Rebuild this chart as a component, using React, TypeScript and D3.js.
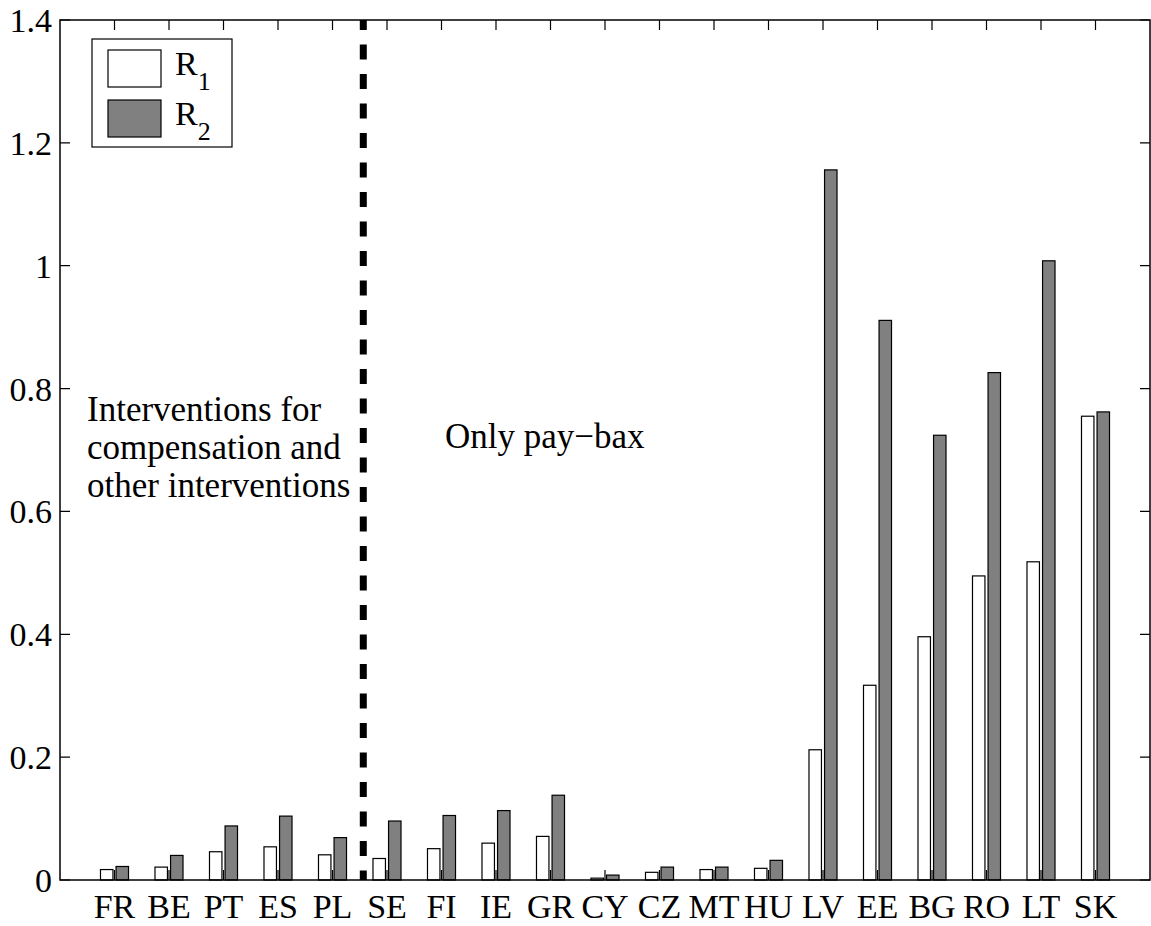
import React, { useEffect, useRef } from 'react';
import * as d3 from 'd3';

const countries = ['FR', 'BE', 'PT', 'ES', 'PL', 'SE', 'FI', 'IE', 'GR', 'CY', 'CZ', 'MT', 'HU', 'LV', 'EE', 'BG', 'RO', 'LT', 'SK'];
const r1 = [0.017, 0.021, 0.046, 0.054, 0.041, 0.035, 0.051, 0.060, 0.071, 0.003, 0.0125, 0.017, 0.019, 0.212, 0.317, 0.396, 0.495, 0.518, 0.755];
const r2 = [0.022, 0.040, 0.088, 0.104, 0.069, 0.096, 0.105, 0.113, 0.138, 0.008, 0.021, 0.021, 0.032, 1.156, 0.911, 0.724, 0.826, 1.008, 0.762];
const yTicks = [0, 0.2, 0.4, 0.6, 0.8, 1, 1.2, 1.4];
const dividerPos = 5.565; // between PL and SE

const App = () => {
    const svgRef = useRef<SVGSVGElement>(null);

    useEffect(() => {
        const width = 1151;
        const height = 926;
        const left = 60, right = 1150, top = 20, bottom = 880;
        const font = '"Liberation Serif", "Times New Roman", serif';

        const svg = d3.select(svgRef.current)
            .attr('width', width)
            .attr('height', height);
        svg.selectAll('*').remove();

        const x = d3.scaleLinear().domain([0, countries.length + 1]).range([left, right]);
        const y = d3.scaleLinear().domain([0, 1.4]).range([bottom, top]);

        const off = 0.1428;  // MATLAB grouped bar offsets
        const bw = x(0.2286) - x(0);

        const series = [
            { values: r1, shift: -off, fill: '#ffffff' },
            { values: r2, shift: off, fill: '#808080' },
        ];

        series.forEach(s => {
            svg.append('g')
                .selectAll('rect')
                .data(s.values)
                .join('rect')
                .attr('x', (d, i) => x(i + 1 + s.shift) - bw / 2)
                .attr('y', d => y(d))
                .attr('width', bw)
                .attr('height', d => y(0) - y(d))
                .attr('fill', s.fill)
                .attr('stroke', '#000')
                .attr('stroke-width', 1.2);
        });

        // dashed divider
        svg.append('line')
            .attr('x1', x(dividerPos)).attr('x2', x(dividerPos))
            .attr('y1', y(1.4)).attr('y2', y(0))
            .attr('stroke', '#000')
            .attr('stroke-width', 7)
            .attr('stroke-dasharray', '15,14.5')
            .attr('stroke-dashoffset', 5);

        // axes box
        svg.append('rect')
            .attr('x', left).attr('y', top)
            .attr('width', right - left).attr('height', bottom - top)
            .attr('fill', 'none')
            .attr('stroke', '#000')
            .attr('stroke-width', 1.5);

        // y ticks both sides (inward)
        const tl = 10;
        svg.append('g').selectAll('path')
            .data(yTicks)
            .join('path')
            .attr('d', d => `M${left},${y(d)}h${tl}M${right},${y(d)}h${-tl}`)
            .attr('stroke', '#000')
            .attr('stroke-width', 1.2);

        // x ticks top & bottom (inward)
        svg.append('g').selectAll('path')
            .data(countries)
            .join('path')
            .attr('d', (d, i) => `M${x(i + 1)},${top}v${tl}M${x(i + 1)},${bottom}v${-tl}`)
            .attr('stroke', '#000')
            .attr('stroke-width', 1.2);

        // y tick labels
        svg.append('g').selectAll('text')
            .data(yTicks)
            .join('text')
            .attr('x', left - 8)
            .attr('y', d => y(d) + 12)
            .attr('text-anchor', 'end')
            .style('font-family', font)
            .style('font-size', '34px')
            .text(d => d3.format('')(d));

        // x tick labels
        svg.append('g').selectAll('text')
            .data(countries)
            .join('text')
            .attr('x', (d, i) => x(i + 1))
            .attr('y', 918)
            .attr('text-anchor', 'middle')
            .style('font-family', font)
            .style('font-size', '34px')
            .text(d => d);

        // annotations
        const notes = svg.append('text')
            .style('font-family', font)
            .style('font-size', '35px');
        ['Interventions for', 'compensation and', 'other interventions'].forEach((t, i) => {
            notes.append('tspan').attr('x', 87).attr('y', 421 + i * 38).text(t);
        });
        svg.append('text')
            .attr('x', 445).attr('y', 448)
            .style('font-family', font)
            .style('font-size', '35px')
            .text('Only pay\u2212bax');

        // legend
        const lg = svg.append('g');
        lg.append('rect')
            .attr('x', 92).attr('y', 39)
            .attr('width', 140).attr('height', 108)
            .attr('fill', '#fff')
            .attr('stroke', '#000')
            .attr('stroke-width', 1.2);
        [{ fill: '#ffffff', sub: '1', y0: 50 }, { fill: '#808080', sub: '2', y0: 100 }].forEach(e => {
            lg.append('rect')
                .attr('x', 108).attr('y', e.y0)
                .attr('width', 53).attr('height', 37)
                .attr('fill', e.fill)
                .attr('stroke', '#000')
                .attr('stroke-width', 1.2);
            const t = lg.append('text')
                .attr('x', 175).attr('y', e.y0 + 25)
                .style('font-family', font)
                .style('font-size', '34px');
            t.append('tspan').text('R');
            t.append('tspan').attr('dy', 15).style('font-size', '26px').text(e.sub);
        });
    }, []);

    return <svg ref={svgRef} style={{ position: 'absolute', left: 0, top: 0, background: '#fff' }}></svg>;
};

export default App;
